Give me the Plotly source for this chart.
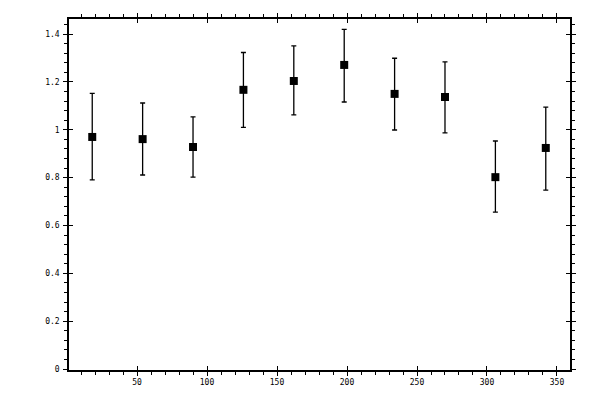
import plotly.graph_objects as go

x_vals = [18, 54, 90, 126, 162, 198, 234, 270, 306, 342]
y_vals = [0.970, 0.961, 0.928, 1.167, 1.204, 1.271, 1.150, 1.137, 0.802, 0.924]
err_plus = [0.182, 0.151, 0.126, 0.156, 0.147, 0.149, 0.149, 0.147, 0.151, 0.171]
err_minus = [0.179, 0.150, 0.126, 0.157, 0.142, 0.155, 0.151, 0.150, 0.146, 0.176]
x_ticks = [50, 100, 150, 200, 250, 300, 350]
y_ticks = [0, 0.2, 0.4, 0.6, 0.8, 1, 1.2, 1.4]

XR = [1.4, 359.3]
YR = [-0.004, 1.463]
font = dict(family="DejaVu Sans Mono", size=8, color="black")

fig = go.Figure()
fig.add_trace(go.Scatter(
    x=x_vals, y=y_vals, mode="markers",
    marker=dict(symbol="square", size=8, color="black"),
    error_y=dict(type="data", symmetric=False, array=err_plus, arrayminus=err_minus,
                 color="black", thickness=1.3, width=2.5),
    showlegend=False,
))
# invisible trace to anchor overlay axes (inward halves of major ticks)
fig.add_trace(go.Scatter(x=x_vals, y=y_vals, mode="markers", marker=dict(opacity=0),
                         xaxis="x2", yaxis="y2", showlegend=False, hoverinfo="skip"))

common = dict(showgrid=False, zeroline=False, linecolor="black", linewidth=1.5,
              tickcolor="black", tickwidth=1.2, tickfont=font)

fig.update_layout(
    width=600, height=400,
    margin=dict(l=69, r=30, t=19, b=30),
    paper_bgcolor="white", plot_bgcolor="white",
    xaxis=dict(range=XR, tickvals=x_ticks, ticks="outside", ticklen=4,
               showline=True, mirror="ticks",
               minor=dict(dtick=10, tick0=0, ticks="outside", ticklen=3, tickwidth=1.2, tickcolor="black", showgrid=False),
               **common),
    yaxis=dict(range=YR, tickvals=y_ticks, ticks="outside", ticklen=4,
               showline=True, mirror="ticks",
               minor=dict(dtick=0.04, tick0=0, ticks="outside", ticklen=3, tickwidth=1.2, tickcolor="black", showgrid=False),
               ticklabelstandoff=2,
               **common),
    xaxis2=dict(range=XR, tickvals=x_ticks, ticks="inside", ticklen=4, overlaying="x",
                anchor="y2", showticklabels=False, showline=False, mirror="ticks",
                showgrid=False, zeroline=False, tickcolor="black", tickwidth=1.2),
    yaxis2=dict(range=YR, tickvals=y_ticks, ticks="inside", ticklen=4, overlaying="y",
                anchor="x2", showticklabels=False, showline=False, mirror="ticks",
                showgrid=False, zeroline=False, tickcolor="black", tickwidth=1.2),
)

fig.write_html("out.html", config={"displayModeBar": False},
               post_script="document.body.style.margin='0';document.body.style.overflow='hidden';")
